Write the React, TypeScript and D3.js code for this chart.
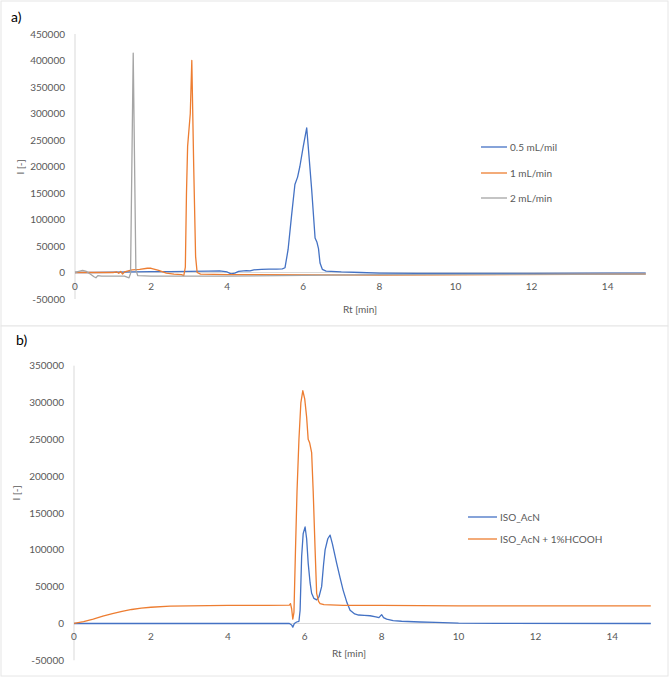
import React from "react";
import * as d3 from "d3";

type Pt = [number, number];

// ---------- Panel a data ----------
const xTicksA = [0, 2, 4, 6, 8, 10, 12, 14];
const yTicksA = [-50000, 0, 50000, 100000, 150000, 200000, 250000, 300000, 350000, 400000, 450000];
const seriesNamesA = ["0.5 mL/mil", "1 mL/min", "2 mL/min"];

const blueA: Pt[] = [
  [0, 0], [0.5, 0], [1, 500], [1.5, 1000], [2, 1500], [2.5, 1800], [3, 2000], [3.5, 2500], [3.8, 3000],
  [4.0, 1000], [4.1, -2500], [4.2, -1000], [4.3, 2000], [4.5, 3500], [4.6, 3000], [4.7, 5000], [4.9, 6000],
  [5.1, 6500], [5.3, 6500], [5.45, 7000], [5.52, 9000], [5.6, 43000], [5.69, 106000], [5.78, 166000],
  [5.85, 180000], [5.91, 200000], [6.0, 238000], [6.09, 273000], [6.15, 220000], [6.22, 157000],
  [6.31, 65000], [6.36, 57000], [6.4, 45000], [6.44, 18000], [6.5, 6000], [6.6, 2500], [7, 1000],
  [7.5, 0], [8, -1000], [9, -1500], [10, -1500], [12, -1500], [14, -1000], [15, -1000],
];

const orangeA: Pt[] = [
  [0, 0], [1.0, 0], [1.1, 1000], [1.15, -1500], [1.2, 2000], [1.25, -3000], [1.3, 1000], [1.4, 3000],
  [1.5, 5000], [1.7, 6000], [1.9, 8000], [2.0, 8000], [2.2, 4000], [2.4, -1000], [2.6, -3000],
  [2.8, -4000], [2.86, -6000], [2.9, 10000], [2.93, 150000], [2.96, 238000], [3.03, 300000],
  [3.07, 400000], [3.12, 200000], [3.17, 30000], [3.21, 0], [3.3, -3000], [4, -4000], [8, -5000], [15, -3000],
];

const grayA: Pt[] = [
  [0, 0], [0.1, 2000], [0.2, 4000], [0.3, 2000], [0.4, -3000], [0.5, -8000], [0.55, -10000],
  [0.6, -6000], [0.7, -7000], [1.0, -7000], [1.3, -7000], [1.42, -10000], [1.46, -2000],
  [1.53, 414000], [1.6, 5000], [1.65, -6000], [2, -7000], [4, -7000], [8, -4000], [15, -3000],
];

// ---------- Panel b data ----------
const xTicksB = [0, 2, 4, 6, 8, 10, 12, 14];
const yTicksB = [-50000, 0, 50000, 100000, 150000, 200000, 250000, 300000, 350000];
const seriesNamesB = ["ISO_AcN", "ISO_AcN + 1%HCOOH"];

const blueB: Pt[] = [
  [0, 0], [5.6, 0], [5.66, -2000], [5.69, -5000], [5.73, 0], [5.79, 2000], [5.85, 3000], [5.88, 18000],
  [5.92, 91000], [5.96, 122000], [6.01, 131000], [6.05, 115000], [6.09, 82000], [6.14, 55000],
  [6.18, 41000], [6.24, 34000], [6.31, 32000], [6.37, 36000], [6.44, 50000], [6.49, 80000],
  [6.53, 100000], [6.6, 115000], [6.66, 120000], [6.72, 108000], [6.83, 82000], [6.92, 62000],
  [7.0, 45000], [7.1, 28000], [7.18, 18000], [7.3, 13000], [7.4, 11500], [7.55, 11000], [7.7, 10500],
  [7.85, 9000], [7.93, 8000], [8.0, 12000], [8.05, 8000], [8.13, 6000], [8.3, 4000], [8.52, 3000],
  [9, 2000], [9.4, 1400], [10, 500], [11, 200], [15, 0],
];

const orangeB: Pt[] = [
  [0, 0], [0.25, 2500], [0.5, 6000], [0.75, 10000], [1, 13500], [1.25, 16500], [1.5, 19000],
  [1.75, 20800], [2, 22000], [2.5, 23500], [3, 24000], [4, 24500], [5, 24500], [5.6, 25000],
  [5.63, 27000], [5.66, 20000], [5.69, 6000], [5.72, 15000], [5.76, 100000], [5.8, 180000],
  [5.85, 250000], [5.9, 300000], [5.95, 316000], [6.0, 305000], [6.05, 280000], [6.09, 250000],
  [6.13, 245000], [6.18, 232000], [6.22, 180000], [6.27, 100000], [6.31, 41000], [6.36, 30000],
  [6.4, 27000], [6.5, 25500], [7, 24500], [8, 24500], [10, 24000], [12, 24000], [15, 24000],
];

const BLUE = "#4472C4";
const ORANGE = "#ED7D31";
const GRAY = "#A5A5A5";
const TEXT = "#595959";
const FONT = "Lato, 'Open Sans', sans-serif";

type PanelProps = {
  label: string;
  labelPos: [number, number];
  xRange: [number, number];
  yDomain: [number, number];
  yRange: [number, number];
  xTicks: number[];
  yTicks: number[];
  series: { name: string; data: Pt[]; color: string }[];
  legendX: number;
  legendYs: number[];
  legendLine: number;
  yLabelX: number;
  yTickX: number;
  xTickY: number;
  xTitle: [number, number];
  yTitle: [number, number];
};

function Panel(p: PanelProps) {
  const x = d3.scaleLinear().domain([0, 15]).range(p.xRange);
  const y = d3.scaleLinear().domain(p.yDomain).range(p.yRange);
  const line = d3
    .line<Pt>()
    .x((d) => x(d[0]))
    .y((d) => y(d[1]));
  return (
    <g>
      <text x={p.labelPos[0]} y={p.labelPos[1]} fontSize={14} fill="#000" fontFamily={FONT}>
        {p.label}
      </text>
      {/* axes */}
      <line x1={x(0)} x2={x(0)} y1={y(p.yDomain[0])} y2={y(p.yDomain[1])} stroke="#D9D9D9" strokeWidth={1} />
      <line x1={x(0)} x2={x(15)} y1={y(0)} y2={y(0)} stroke="#D9D9D9" strokeWidth={1} />
      {p.yTicks.map((t) => (
        <text key={t} x={p.yTickX} y={y(t)} dy="0.35em" textAnchor="end" fontSize={10} fill={TEXT} fontFamily={FONT}>
          {t}
        </text>
      ))}
      {p.xTicks.map((t) => (
        <text key={t} x={x(t)} y={p.xTickY} dy="0.35em" textAnchor="middle" fontSize={10} fill={TEXT} fontFamily={FONT}>
          {t}
        </text>
      ))}
      <text x={p.xTitle[0]} y={p.xTitle[1]} dy="0.35em" textAnchor="middle" fontSize={10} fill={TEXT} fontFamily={FONT}>
        Rt [min]
      </text>
      <text
        transform={`translate(${p.yTitle[0]},${p.yTitle[1]}) rotate(-90)`}
        dy="0.35em"
        textAnchor="middle"
        fontSize={10}
        fill={TEXT}
        fontFamily={FONT}
      >
        I [-]
      </text>
      {p.series.map((s) => (
        <path key={s.name} d={line(s.data) || ""} fill="none" stroke={s.color} strokeWidth={1.3} strokeLinejoin="round" />
      ))}
      {p.series.map((s, i) => (
        <g key={"lg" + s.name}>
          <line x1={p.legendX} x2={p.legendX + p.legendLine} y1={p.legendYs[i]} y2={p.legendYs[i]} stroke={s.color} strokeWidth={1.3} />
          <text x={p.legendX + p.legendLine + 3} y={p.legendYs[i]} dy="0.35em" fontSize={10} fill={TEXT} fontFamily={FONT}>
            {s.name}
          </text>
        </g>
      ))}
    </g>
  );
}

export default function App() {
  return (
    <svg
      width={670}
      height={678}
      style={{ position: "absolute", left: 0, top: 0, background: "#fff" }}
    >
      <rect x={1} y={1} width={667} height={325} fill="#fff" stroke="#E6E6E6" />
      <rect x={1} y={326} width={667} height={350} fill="#fff" stroke="#E6E6E6" />
      <Panel
        label="a)"
        labelPos={[11, 22]}
        xRange={[75, 645.7]}
        yDomain={[-50000, 450000]}
        yRange={[299, 34]}
        xTicks={xTicksA}
        yTicks={yTicksA}
        series={[
          { name: seriesNamesA[0], data: blueA, color: BLUE },
          { name: seriesNamesA[1], data: orangeA, color: ORANGE },
          { name: seriesNamesA[2], data: grayA, color: GRAY },
        ]}
        legendX={481}
        legendYs={[147, 173, 198]}
        legendLine={26}
        yLabelX={20}
        yTickX={65}
        xTickY={286}
        xTitle={[360, 309]}
        yTitle={[20, 167]}
      />
      <Panel
        label="b)"
        labelPos={[16, 345]}
        xRange={[74, 650.8]}
        yDomain={[-50000, 350000]}
        yRange={[660.3, 365.7]}
        xTicks={xTicksB}
        yTicks={yTicksB}
        series={[
          { name: seriesNamesB[0], data: blueB, color: BLUE },
          { name: seriesNamesB[1], data: orangeB, color: ORANGE },
        ]}
        legendX={468}
        legendYs={[517, 539]}
        legendLine={29}
        yLabelX={16}
        yTickX={64}
        xTickY={636.7}
        xTitle={[349, 653]}
        yTitle={[16, 493]}
      />
    </svg>
  );
}
